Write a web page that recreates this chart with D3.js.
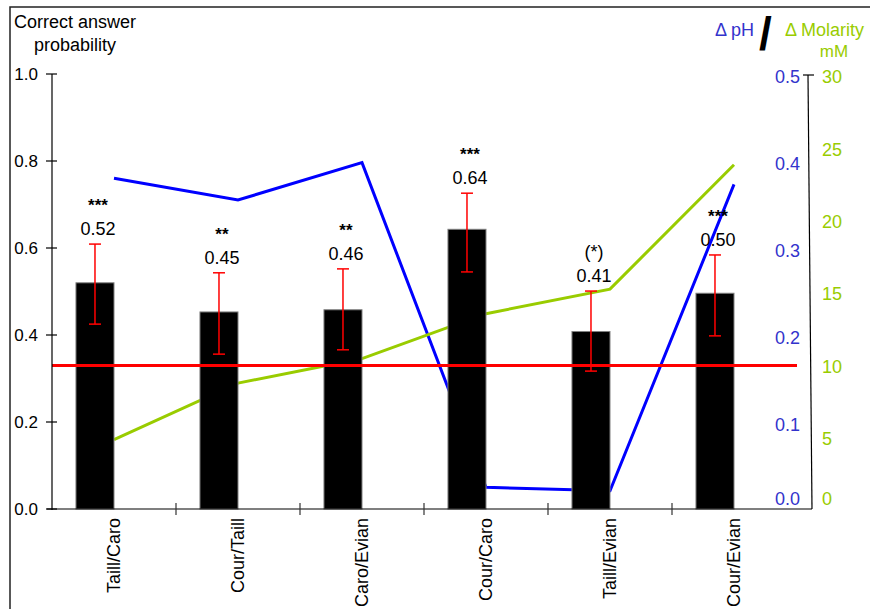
<!DOCTYPE html>
<html>
<head>
<meta charset="utf-8">
<script src="https://cdn.jsdelivr.net/npm/d3@7"></script>
<style>
  html, body { margin: 0; padding: 0; background: #fff; }
  svg { display: block; }
  text { font-family: "Liberation Sans", Arial, sans-serif; }
</style>
</head>
<body>
<svg id="chart" width="870" height="609"></svg>
<script>
// ---- data ----
const categories = ["Taill/Caro", "Cour/Taill", "Caro/Evian", "Cour/Caro", "Taill/Evian", "Cour/Evian"];
const probability = [0.52, 0.453, 0.458, 0.643, 0.408, 0.496];
const probabilityLabels = ["0.52", "0.45", "0.46", "0.64", "0.41", "0.50"];
const errLow = [0.425, 0.356, 0.366, 0.545, 0.317, 0.398];
const errHigh = [0.609, 0.543, 0.552, 0.726, 0.501, 0.584];
const significance = ["***", "**", "**", "***", "(*)", "***"];
const deltaPH = [0.381, 0.356, 0.399, 0.025, 0.021, 0.374];
const deltaMolarity = [4.8, 8.7, 10.4, 13.5, 15.2, 23.8];
const chanceLevel = 0.33;
const leftTicks = [0, 0.2, 0.4, 0.6, 0.8, 1.0];
const phTicks = [0, 0.1, 0.2, 0.3, 0.4, 0.5];
const molTicks = [0, 5, 10, 15, 20, 25, 30];

// ---- layout ----
const svg = d3.select("#chart");
const X0 = 52, X1 = 796, Y0 = 509, Y1 = 74;
const BLUE = "#0000ff", BLUE_TXT = "#3333cc", GREEN = "#99cc00", RED = "#ff0000";

const x = d3.scaleBand().domain(categories).range([X0, X1]).padding(0);
const inner = d3.scaleBand().domain(["prob", "empty"]).range([0, x.bandwidth()])
  .paddingInner(0).paddingOuter(0.63);
const y = d3.scaleLinear().domain([0, 1]).range([Y0, Y1]);
const yPH = d3.scaleLinear().domain([0, 0.5]).range([Y0, Y1 + 1]);
const yMol = d3.scaleLinear().domain([0, 30]).range([Y0, Y1 + 1]);

const catCenter = c => x(c) + x.bandwidth() / 2;
const barX = c => x(c) + inner("prob");
const barW = inner.bandwidth();
const barCenter = c => barX(c) + barW / 2;

// frame
svg.append("rect").attr("x", 10).attr("y", 7).attr("width", 900).attr("height", 700)
  .attr("fill", "none").attr("stroke", "#222").attr("stroke-width", 1.5);

// lines (behind bars)
const phLine = d3.line().x((d, i) => catCenter(categories[i])).y(d => yPH(d));
svg.append("path").datum(deltaPH).attr("d", phLine)
  .attr("fill", "none").attr("stroke", BLUE).attr("stroke-width", 3).attr("stroke-linejoin", "miter");
const molLine = d3.line().x((d, i) => catCenter(categories[i])).y(d => yMol(d));
svg.append("path").datum(deltaMolarity).attr("d", molLine)
  .attr("fill", "none").attr("stroke", GREEN).attr("stroke-width", 3);

// bars
svg.selectAll("rect.bar").data(categories).join("rect")
  .attr("class", "bar")
  .attr("x", c => barX(c)).attr("width", barW)
  .attr("y", (c, i) => y(probability[i]))
  .attr("height", (c, i) => Y0 - y(probability[i]))
  .attr("fill", "#000").attr("stroke", "#808080").attr("stroke-width", 1);

// chance level line
svg.append("line").attr("x1", X0).attr("x2", X1 + 1)
  .attr("y1", y(chanceLevel)).attr("y2", y(chanceLevel))
  .attr("stroke", RED).attr("stroke-width", 3);

// error bars
const eb = svg.append("g").attr("stroke", RED).attr("stroke-width", 1.5);
categories.forEach((c, i) => {
  const cx = barCenter(c);
  eb.append("line").attr("x1", cx).attr("x2", cx).attr("y1", y(errLow[i])).attr("y2", y(errHigh[i]));
  eb.append("line").attr("x1", cx - 6).attr("x2", cx + 6).attr("y1", y(errLow[i])).attr("y2", y(errLow[i]));
  eb.append("line").attr("x1", cx - 6).attr("x2", cx + 6).attr("y1", y(errHigh[i])).attr("y2", y(errHigh[i]));
});

// value labels and significance
categories.forEach((c, i) => {
  const cx = barCenter(c) + 3;
  const base = y(errHigh[i]) - 9;
  svg.append("text").attr("x", cx).attr("y", base).attr("text-anchor", "middle")
    .attr("font-size", 18).attr("fill", "#000").text(probabilityLabels[i]);
  const sig = significance[i];
  svg.append("text").attr("x", cx).attr("y", base - 24).attr("text-anchor", "middle")
    .attr("font-size", sig.includes("(") ? 18 : 17)
    .attr("font-weight", sig.includes("(") ? "normal" : "bold")
    .attr("fill", "#000").text(sig);
});

// left axis
const leftAxis = d3.axisLeft(y).tickValues(leftTicks).tickFormat(d3.format(".1f")).tickSize(0).tickPadding(14);
const gl = svg.append("g").attr("transform", `translate(${X0},0)`).call(leftAxis);
gl.select(".domain").remove();
gl.selectAll("text").attr("font-size", 17).attr("fill", "#000")
  .attr("font-family", "Liberation Sans, Arial, sans-serif");
svg.append("line").attr("x1", X0).attr("x2", X0).attr("y1", Y1).attr("y2", Y0 + 1)
  .attr("stroke", "#000").attr("stroke-width", 1.2);
leftTicks.forEach(v => {
  svg.append("line").attr("x1", X0 - 6).attr("x2", X0 + 5).attr("y1", y(v)).attr("y2", y(v))
    .attr("stroke", "#000").attr("stroke-width", 1.2);
});

// x axis
svg.append("line").attr("x1", X0 - 5).attr("x2", 812).attr("y1", Y0).attr("y2", Y0)
  .attr("stroke", "#000").attr("stroke-width", 1.2);
categories.slice(1).forEach(c => {
  svg.append("line").attr("x1", x(c)).attr("x2", x(c)).attr("y1", Y0 - 6).attr("y2", Y0 + 6)
    .attr("stroke", "#333").attr("stroke-width", 1.2);
});
categories.forEach(c => {
  const cx = catCenter(c);
  svg.append("text").attr("transform", `translate(${cx + 6},${Y0 + 9}) rotate(-90)`)
    .attr("text-anchor", "end").attr("font-size", 18).attr("fill", "#000").text(c);
});

// right axis
svg.append("line").attr("x1", 808).attr("x2", 812).attr("y1", Y1 + 1).attr("y2", Y0)
  .attr("stroke", "#000").attr("stroke-width", 1.2);
svg.append("line").attr("x1", 803).attr("x2", 814).attr("y1", Y1 + 1).attr("y2", Y1 + 1)
  .attr("stroke", "#000").attr("stroke-width", 1.2);
phTicks.forEach(v => {
  svg.append("text").attr("x", 800).attr("y", Math.min(yPH(v) + 2, 499)).attr("dy", "0.35em")
    .attr("text-anchor", "end").attr("font-size", 18).attr("fill", BLUE_TXT).text(d3.format(".1f")(v));
});
molTicks.forEach(v => {
  svg.append("text").attr("x", 822).attr("y", Math.min(yMol(v) + 2, 499)).attr("dy", "0.35em")
    .attr("text-anchor", "start").attr("font-size", 18).attr("fill", GREEN).text(v);
});

// titles
svg.append("text").attr("x", 14).attr("y", 28).attr("font-size", 18).attr("fill", "#000").text("Correct answer");
svg.append("text").attr("x", 34).attr("y", 51).attr("font-size", 18).attr("fill", "#000").text("probability");
svg.append("text").attr("x", 715).attr("y", 36).attr("font-size", 18).attr("fill", BLUE_TXT).text("Δ pH");
svg.append("text").attr("x", 759).attr("y", 50).attr("font-size", 46).attr("font-weight", "bold")
  .attr("fill", "#000").text("/");
svg.append("text").attr("x", 785).attr("y", 36).attr("font-size", 18).attr("fill", GREEN).text("Δ Molarity");
svg.append("text").attr("x", 834).attr("y", 57).attr("text-anchor", "middle").attr("font-size", 17)
  .attr("fill", GREEN).text("mM");
</script>
</body>
</html>
